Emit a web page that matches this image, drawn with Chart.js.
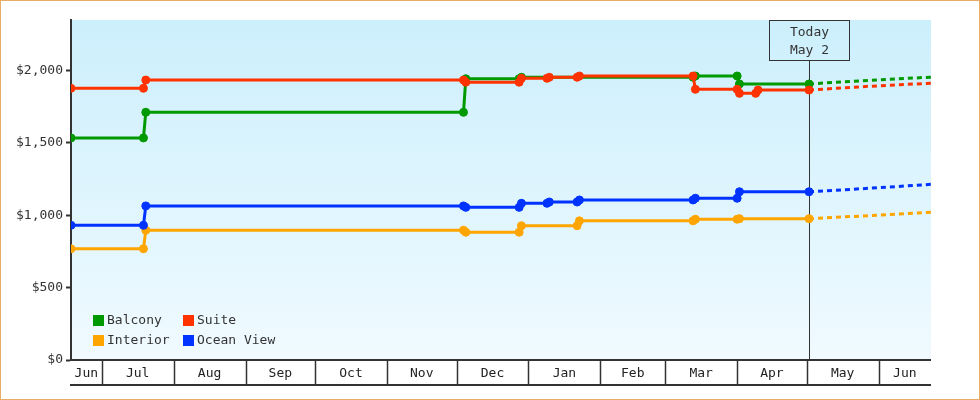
<!DOCTYPE html>
<html>
<head>
<meta charset="utf-8">
<script src="https://cdn.jsdelivr.net/npm/chart.js@4/dist/chart.umd.min.js"></script>
<style>
html,body{margin:0;padding:0;background:#fff;}
#wrap{width:980px;height:400px;position:relative;}
canvas{display:block;}
</style>
</head>
<body>
<div id="wrap"><canvas id="c" width="980" height="400"></canvas></div>
<script>
// ---------- data ----------
const originDate = '2022-06-01';
const xStartDate = '2022-06-17T18:00:00Z';
const xEndDate = '2023-06-23T14:24:00Z';
const monthLabels = ['Jun','Jul','Aug','Sep','Oct','Nov','Dec','Jan','Feb','Mar','Apr','May','Jun'];
const monthStarts = ['2022-06-01','2022-07-01','2022-08-01','2022-09-01','2022-10-01','2022-11-01','2022-12-01',
                     '2023-01-01','2023-02-01','2023-03-01','2023-04-01','2023-05-01','2023-06-01','2023-07-01'];
const yTickValues = [0, 500, 1000, 1500, 2000];
const yMaxValue = 2350;
const todayDate = '2023-05-02';
const todayLabel = ['Today', 'May 2'];

const balconyDates  = ['2022-06-17T18:00:00Z','2022-07-19','2022-07-20','2022-12-04','2022-12-05','2022-12-28','2022-12-29','2023-03-13','2023-03-14','2023-04-01','2023-04-02','2023-05-02'];
const balconyValues = [1535, 1535, 1712, 1712, 1944, 1944, 1954, 1954, 1963, 1963, 1908, 1908];

const suiteDates  = ['2022-06-17T18:00:00Z','2022-07-19','2022-07-20','2022-12-04','2022-12-05','2022-12-28','2022-12-29','2023-01-09','2023-01-10','2023-01-22','2023-01-23','2023-03-13','2023-03-14','2023-04-01','2023-04-02','2023-04-09','2023-04-10','2023-05-02'];
const suiteValues = [1878, 1878, 1935, 1935, 1920, 1920, 1947, 1947, 1954, 1954, 1963, 1963, 1871, 1871, 1843, 1843, 1866, 1866];

const interiorDates  = ['2022-06-17T18:00:00Z','2022-07-19','2022-07-20','2022-12-04','2022-12-05','2022-12-28','2022-12-29','2023-01-22','2023-01-23','2023-03-13','2023-03-14','2023-04-01','2023-04-02','2023-05-02'];
const interiorValues = [769, 769, 897, 897, 883, 883, 928, 928, 962, 962, 973, 973, 977, 977];

const oceanDates  = ['2022-06-17T18:00:00Z','2022-07-19','2022-07-20','2022-12-04','2022-12-05','2022-12-28','2022-12-29','2023-01-09','2023-01-10','2023-01-22','2023-01-23','2023-03-13','2023-03-14','2023-04-01','2023-04-02','2023-05-02'];
const oceanValues = [931, 931, 1065, 1065, 1055, 1055, 1083, 1083, 1092, 1092, 1106, 1106, 1118, 1118, 1163, 1163];

// projections after today
const projectionDates = ['2023-05-02', '2023-05-28', xEndDate];
const balconyProjection  = [1908, 1933, 1955];
const suiteProjection    = [1866, 1892, 1913];
const interiorProjection = [977, 998, 1021];
const oceanProjection    = [1163, 1187, 1214];

const seriesNames  = ['Balcony', 'Suite', 'Interior', 'Ocean View'];
const seriesColors = ['#009900', '#FF3300', '#FFA500', '#0033FF'];

// ---------- helpers ----------
const DAY = 86400000;
function toDay(s) {
  const iso = s.length === 10 ? s + 'T00:00:00Z' : s;
  return (Date.parse(iso) - Date.parse(originDate + 'T00:00:00Z')) / DAY;
}
function pts(dates, values) { return dates.map((d, i) => ({ x: toDay(d), y: values[i] })); }

const FONT = "'DejaVu Sans Mono', 'Liberation Mono', monospace";

function solid(idx, dates, values) {
  return {
    label: seriesNames[idx],
    data: pts(dates, values),
    borderColor: seriesColors[idx],
    backgroundColor: seriesColors[idx],
    pointBackgroundColor: seriesColors[idx],
    pointBorderColor: seriesColors[idx],
    borderWidth: 3,
    pointRadius: 4,
    pointBorderWidth: 1,
    tension: 0,
    fill: false
  };
}
function dashed(idx, values) {
  return {
    label: seriesNames[idx] + ' (projection)',
    data: pts(projectionDates, values),
    borderColor: seriesColors[idx],
    borderWidth: 3,
    borderDash: [5, 4],
    pointRadius: 0,
    tension: 0,
    fill: false
  };
}

// ---------- plugins ----------
const bgPlugin = {
  id: 'bg',
  beforeDraw(chart) {
    const { ctx, chartArea: a } = chart;
    ctx.save();
    ctx.fillStyle = '#fff';
    ctx.fillRect(0, 0, chart.width, chart.height);
    const g = ctx.createLinearGradient(0, a.top, 0, a.bottom);
    g.addColorStop(0, '#CCEFFC');
    g.addColorStop(1, '#F0FAFF');
    ctx.fillStyle = g;
    ctx.fillRect(a.left, a.top, a.right - a.left, a.bottom - a.top);
    ctx.restore();
  }
};

const todayPlugin = {
  id: 'today',
  beforeDatasetsDraw(chart) {
    const { ctx, chartArea: a, scales: { x } } = chart;
    const px = Math.round(x.getPixelForValue(toDay(todayDate))) + 0.5;
    const boxW = 80, boxH = 40;
    const top = a.top + 0.5;
    ctx.save();
    ctx.strokeStyle = '#333';
    ctx.lineWidth = 1;
    ctx.strokeRect(px - boxW / 2, top, boxW, boxH);
    ctx.beginPath();
    ctx.moveTo(px, top + boxH);
    ctx.lineTo(px, a.bottom);
    ctx.stroke();
    ctx.fillStyle = '#333';
    ctx.font = '13px ' + FONT;
    ctx.textAlign = 'center';
    ctx.textBaseline = 'middle';
    ctx.fillText(todayLabel[0], px, top + 12);
    ctx.fillText(todayLabel[1], px, top + 30);
    ctx.restore();
  }
};

const monthAxisPlugin = {
  id: 'monthAxis',
  afterDraw(chart) {
    const { ctx, chartArea: a, scales: { x } } = chart;
    const y0 = a.bottom, y1 = a.bottom + 25;
    ctx.save();
    ctx.strokeStyle = '#333';
    ctx.lineWidth = 2;
    ctx.beginPath();
    ctx.moveTo(a.left - 1, y0); ctx.lineTo(a.right, y0);
    ctx.moveTo(a.left - 1, y1); ctx.lineTo(a.right, y1);
    ctx.stroke();
    ctx.fillStyle = '#222';
    ctx.font = '13px ' + FONT;
    ctx.textAlign = 'center';
    ctx.textBaseline = 'middle';
    for (let i = 0; i < monthLabels.length; i++) {
      const s = Math.max(toDay(monthStarts[i]), x.min);
      const e = Math.min(toDay(monthStarts[i + 1]), x.max);
      const ps = x.getPixelForValue(s), pe = x.getPixelForValue(e);
      if (i > 0 && toDay(monthStarts[i]) > x.min) {
        const bx = Math.round(ps) + 0.5;
        ctx.lineWidth = 1.5;
        ctx.beginPath(); ctx.moveTo(bx, y0); ctx.lineTo(bx, y1); ctx.stroke();
      }
      ctx.fillText(monthLabels[i], (ps + pe) / 2, (y0 + y1) / 2 + 1);
    }
    // outer orange frame
    ctx.strokeStyle = '#E9AB68';
    ctx.lineWidth = 1;
    ctx.strokeRect(0.5, 0.5, chart.width - 1, chart.height - 1);
    ctx.restore();
  }
};

const legendPlugin = {
  id: 'customLegend',
  afterDatasetsDraw(chart) {
    const { ctx, chartArea: a } = chart;
    const cols = [a.left + 22, a.left + 112];
    const rows = [a.bottom - 45, a.bottom - 25];
    ctx.save();
    ctx.font = '13px ' + FONT;
    ctx.textAlign = 'left';
    ctx.textBaseline = 'middle';
    seriesNames.forEach((name, i) => {
      const bx = cols[i % 2], by = rows[Math.floor(i / 2)];
      ctx.fillStyle = seriesColors[i];
      ctx.fillRect(bx, by, 11, 11);
      ctx.fillStyle = '#333';
      ctx.fillText(name, bx + 14, by + 6);
    });
    ctx.restore();
  }
};

// ---------- chart ----------
new Chart(document.getElementById('c'), {
  type: 'line',
  data: {
    datasets: [
      solid(1, suiteDates, suiteValues),
      solid(0, balconyDates, balconyValues),
      solid(3, oceanDates, oceanValues),
      solid(2, interiorDates, interiorValues),
      dashed(1, suiteProjection),
      dashed(0, balconyProjection),
      dashed(3, oceanProjection),
      dashed(2, interiorProjection)
    ]
  },
  options: {
    responsive: false,
    animation: false,
    devicePixelRatio: 1,
    layout: { padding: { top: 20, right: 49, bottom: 40, left: 0 } },
    plugins: { legend: { display: false }, tooltip: { enabled: false } },
    scales: {
      x: {
        type: 'linear',
        min: toDay(xStartDate),
        max: toDay(xEndDate),
        display: false
      },
      y: {
        type: 'linear',
        min: 0,
        max: yMaxValue,
        afterBuildTicks(scale) { scale.ticks = yTickValues.map(v => ({ value: v })); },
        afterFit(scale) { scale.width = 71; },
        ticks: {
          callback: v => '$' + Number(v).toLocaleString('en-US'),
          font: { family: FONT, size: 13 },
          color: '#333',
          padding: 3
        },
        grid: { drawOnChartArea: false, drawTicks: true, tickLength: 5, tickColor: '#333', tickWidth: 2 },
        border: { display: true, color: '#333', width: 2 }
      }
    }
  },
  plugins: [bgPlugin, todayPlugin, monthAxisPlugin, legendPlugin]
});
</script>
</body>
</html>
